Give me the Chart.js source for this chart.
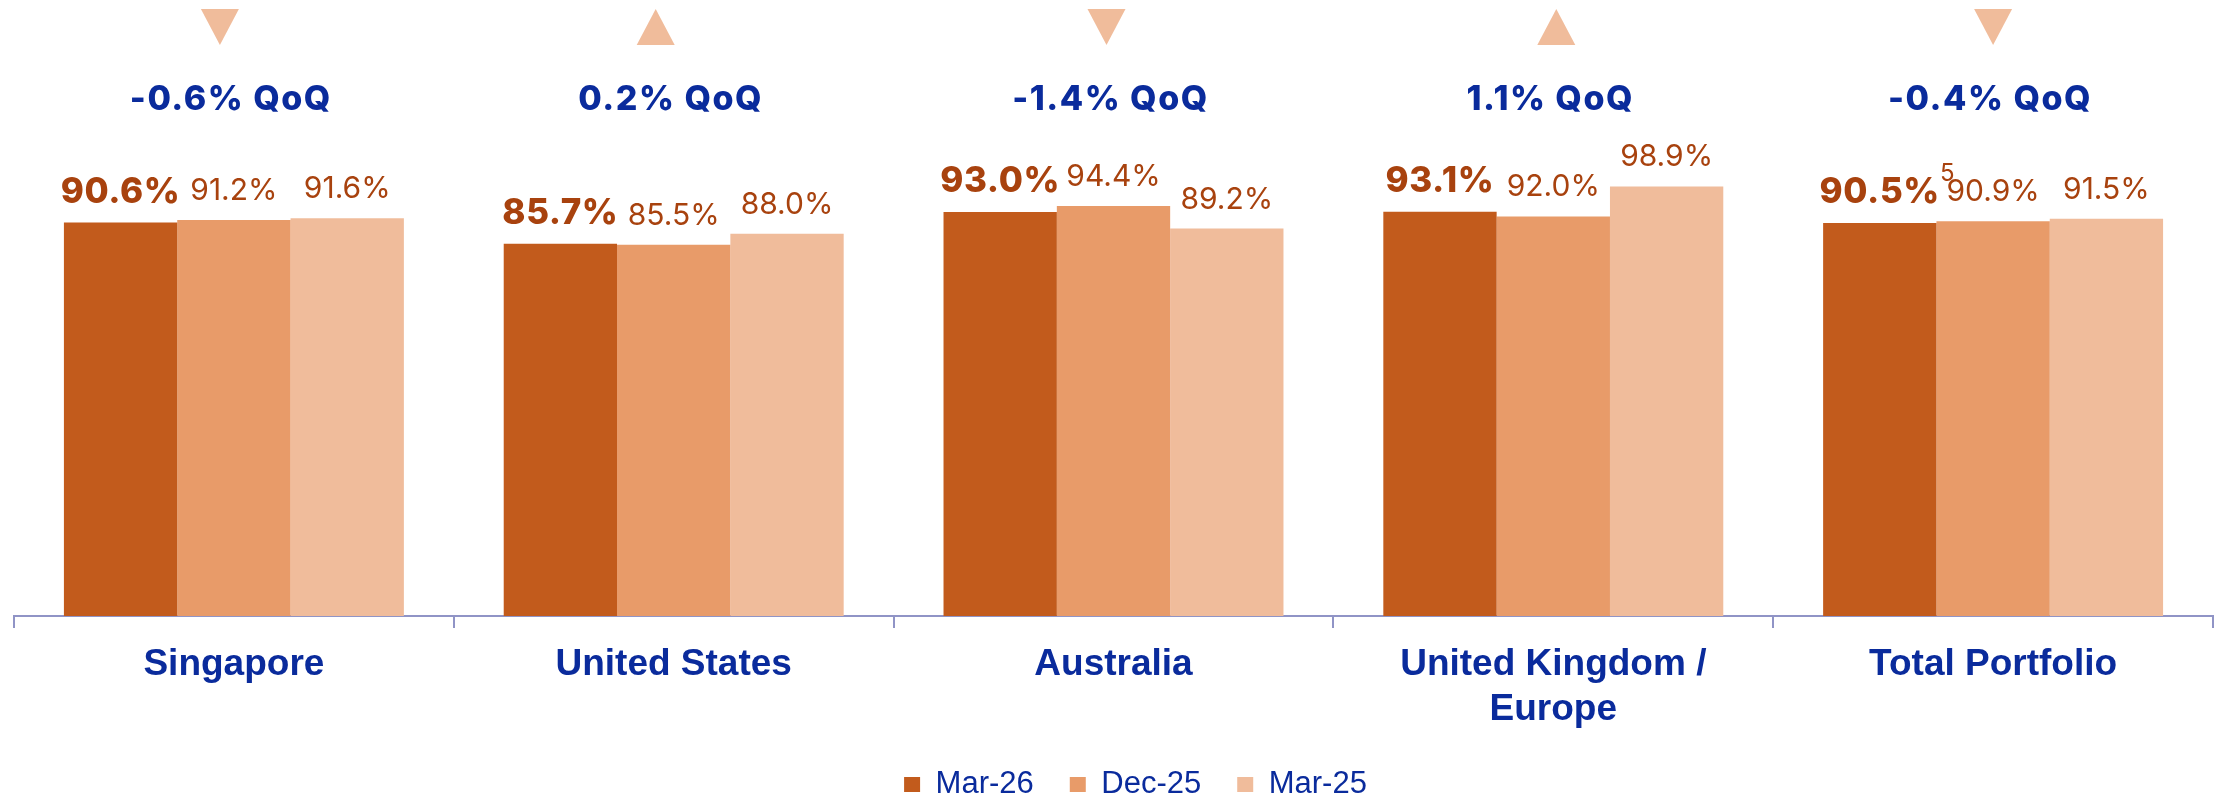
<!DOCTYPE html>
<html>
<head>
<meta charset="utf-8">
<script src="https://cdn.jsdelivr.net/npm/chart.js@4/dist/chart.umd.min.js"></script>
<style>
  html, body { margin: 0; padding: 0; background: #fff; overflow: hidden; }
  #wrap { width: 2224px; height: 810px; }
</style>
</head>
<body>
<div id="wrap"><canvas id="chart" width="2224" height="810"></canvas></div>
<script>
const regions = ['Singapore', 'United States', 'Australia', ['United Kingdom /', 'Europe'], 'Total Portfolio']
const mar26 = [90.6, 85.7, 93.0, 93.1, 90.5]
const dec25 = [91.2, 85.5, 94.4, 92.0, 90.9]
const mar25 = [91.6, 88.0, 89.2, 98.9, 91.5]
const qoq = [-0.6, 0.2, -1.4, 1.1, -0.4]
const footnotes = [null, null, null, null, '5']

const blue = '#0a2b9c'
const labelColor = '#a8420e'
const axisColor = '#9094c6'
const triColor = '#f0bc9b'

// value labels, footnote and the QoQ markers above each group
const labelPlugin = {
  id: 'barLabels',
  afterLayout(chart) {
    // legend in the source sits a little right of centre
    chart.legend.left += 44
  },
  afterDatasetsDraw(chart) {
    const ctx = chart.ctx
    const area = chart.chartArea
    const xScale = chart.scales.x
    const nudge = [-14, -18, -7, 3, 0] // arrows aren't quite centred in the original
    ctx.save()
    ctx.textBaseline = 'alphabetic'
    chart.data.datasets.forEach((ds, di) => {
      chart.getDatasetMeta(di).data.forEach((bar, i) => {
        const txt = ds.data[i].toFixed(1) + '%'
        ctx.fillStyle = labelColor
        ctx.textAlign = 'center'
        if (di === 0) {
          ctx.font = '800 35px Inter'
          ctx.letterSpacing = '0.6px'
        } else {
          ctx.font = '30px Inter'
          ctx.letterSpacing = '0px'
        }
        ctx.fillText(txt, bar.x, bar.y - 20)
        if (di === 0 && footnotes[i]) {
          const w = ctx.measureText(txt).width
          ctx.font = '24px Inter'
          ctx.letterSpacing = '0px'
          ctx.textAlign = 'left'
          ctx.fillText(footnotes[i], bar.x + w / 2, bar.y - 42)
        }
      })
    })
    qoq.forEach((v, i) => {
      const cx = xScale.getPixelForValue(i)
      const tx = cx + nudge[i]
      const top = area.top + 1
      const bot = area.top + 37
      const hw = 19
      ctx.fillStyle = triColor
      ctx.beginPath()
      if (v < 0) {
        ctx.moveTo(tx - hw, top); ctx.lineTo(tx + hw, top); ctx.lineTo(tx, bot)
      } else {
        ctx.moveTo(tx, top); ctx.lineTo(tx + hw, bot); ctx.lineTo(tx - hw, bot)
      }
      ctx.closePath()
      ctx.fill()
      ctx.fillStyle = blue
      ctx.textAlign = 'center'
      ctx.font = '800 34px Inter'
      ctx.letterSpacing = '1.5px'
      ctx.fillText(v.toFixed(1) + '% QoQ', cx - 3, area.top + 102)
    })
    ctx.restore()
  }
}

new Chart(document.getElementById('chart').getContext('2d'), {
  type: 'bar',
  data: {
    labels: regions,
    datasets: [
      { label: 'Mar-26', data: mar26, backgroundColor: '#c25b1c' },
      { label: 'Dec-25', data: dec25, backgroundColor: '#e89b69' },
      { label: 'Mar-25', data: mar25, backgroundColor: '#f0bc9b' }
    ]
  },
  options: {
    responsive: false,
    animation: false,
    layout: { padding: { top: 8, left: 14, right: 11, bottom: 0 } },
    datasets: { bar: { categoryPercentage: 0.773, barPercentage: 1 } },
    plugins: {
      tooltip: { enabled: false },
      legend: {
        position: 'bottom',
        labels: {
          color: blue,
          font: { family: 'Liberation Sans', size: 31 },
          boxWidth: 16,
          boxHeight: 15,
          padding: 36
        }
      }
    },
    scales: {
      x: {
        afterFit(scale) { scale.height = 117 },
        grid: { offset: true, drawOnChartArea: false, tickLength: 12, color: axisColor, lineWidth: 2 },
        border: { display: true, color: axisColor, width: 2 },
        ticks: {
          color: blue,
          padding: 15,
          maxRotation: 0,
          font: { family: 'Liberation Sans', size: 37, weight: 'bold', lineHeight: 1.2 }
        }
      },
      y: { display: false, min: 0, max: 140 }
    }
  },
  plugins: [labelPlugin]
})
</script>
</body>
</html>
